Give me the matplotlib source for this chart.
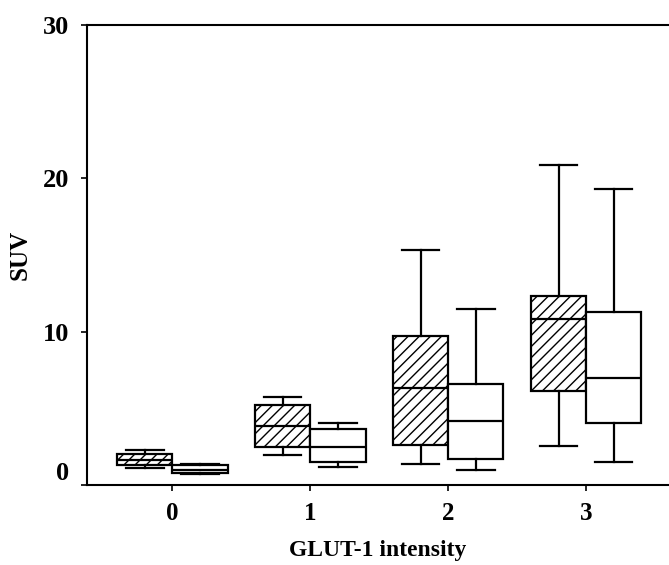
import numpy as np
import matplotlib
matplotlib.use("Agg")
import matplotlib.pyplot as plt
from matplotlib.transforms import ScaledTranslation

plt.rcParams['font.family'] = ['Liberation Serif', 'DejaVu Serif']
plt.rcParams['font.weight'] = 'bold'
plt.rcParams['hatch.linewidth'] = 1.0

groups = [0, 1, 2, 3]

# hatched boxes (left of each tick)
hatched_low = [1.1, 1.95, 1.4, 2.55]
hatched_q1 = [1.3, 2.5, 2.6, 6.1]
hatched_med = [1.6, 3.85, 6.35, 10.8]
hatched_q3 = [2.05, 5.2, 9.7, 12.35]
hatched_high = [2.3, 5.75, 15.3, 20.85]

# open boxes (right of each tick)
open_low = [0.7, 1.2, 1.0, 1.5]
open_q1 = [0.8, 1.5, 1.7, 4.05]
open_med = [1.0, 2.5, 4.2, 7.0]
open_q3 = [1.3, 3.65, 6.6, 11.25]
open_high = [1.4, 4.05, 11.45, 19.3]


def make_stats(low, q1, med, q3, high):
    return [dict(whislo=a, q1=b, med=c, q3=d, whishi=e, fliers=[])
            for a, b, c, d, e in zip(low, q1, med, q3, high)]


fig = plt.figure(figsize=(6.69, 5.65), dpi=100)
ax = fig.add_axes([0.130, 0.1416, 0.870, 0.8142])

lw = 1.6
props = dict(
    widths=0.4, capwidths=0.27, patch_artist=True, showfliers=False,
    boxprops=dict(facecolor='white', edgecolor='black', linewidth=lw),
    medianprops=dict(color='black', linewidth=lw),
    whiskerprops=dict(color='black', linewidth=lw),
    capprops=dict(color='black', linewidth=lw),
)

pos = np.array(groups)
b1 = ax.bxp(make_stats(hatched_low, hatched_q1, hatched_med, hatched_q3, hatched_high),
            positions=pos - 0.2, **props)
for box in b1['boxes']:
    box.set_hatch('///')
b2 = ax.bxp(make_stats(open_low, open_q1, open_med, open_q3, open_high),
            positions=pos + 0.2, **props)

ax.set_xlim(-0.62, 3.6)
ax.set_ylim(0, 30)
ax.set_xticks(groups)
ax.set_xticklabels([str(g) for g in groups])
ax.set_yticks([0, 10, 20, 30])

ax.spines['right'].set_visible(False)
for s in ['left', 'bottom', 'top']:
    ax.spines[s].set_linewidth(1.5)
ax.tick_params(axis='both', labelsize=18, width=1.2, length=4, direction='out')
ax.tick_params(axis='x', pad=8)
ax.tick_params(axis='y', labelsize=19, pad=9)

# the zero label sits a little above the axis line
fig.canvas.draw()
lab0 = ax.get_yticklabels()[0]
lab0.set_transform(lab0.get_transform() + ScaledTranslation(0, 0.14, fig.dpi_scale_trans))

ax.set_xlabel('GLUT-1 intensity', fontsize=17, fontweight='bold', labelpad=11)
ax.set_ylabel('SUV', fontsize=18, fontweight='bold', labelpad=8)

fig.savefig('out.png', dpi=100)
